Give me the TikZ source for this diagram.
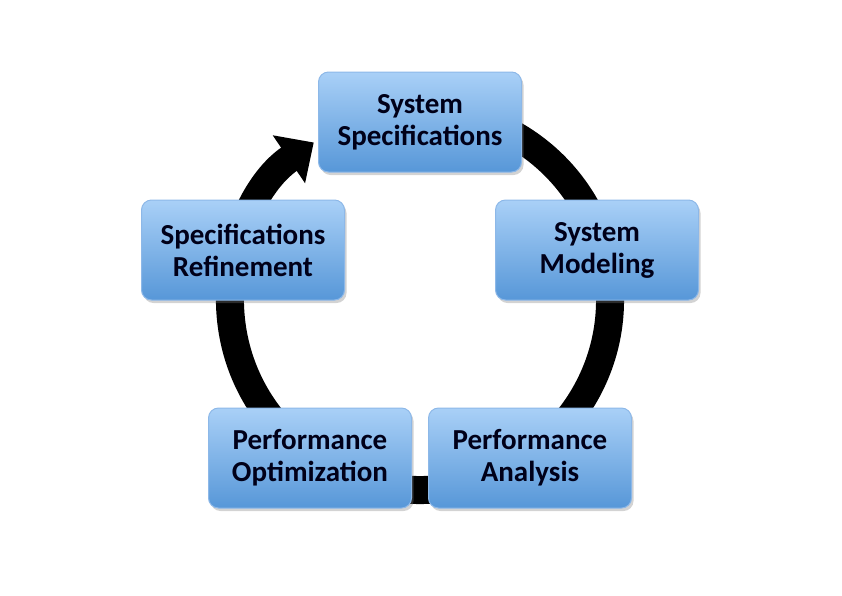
\documentclass[tikz,border=0pt]{standalone}
\usepackage{fontspec}
\setmainfont{Carlito}
\usetikzlibrary{arrows.meta,shadows}
\definecolor{topb}{HTML}{A9D0F7}
\definecolor{botb}{HTML}{5797D8}
\definecolor{edgeb}{HTML}{8DB8E8}
\tikzset{box/.style={draw=edgeb,line width=1pt,rounded corners=10pt,minimum width=203pt,minimum height=100pt,
 top color=topb,bottom color=botb,align=center,font=\fontsize{29}{32}\selectfont\bfseries,text=black!90!blue,
 drop shadow={shadow xshift=2pt,shadow yshift=-3pt,opacity=0.35}}}
\begin{document}
\begin{tikzpicture}[x=1pt,y=1pt]
\useasboundingbox (0,0) rectangle (842,-595);
\coordinate (c) at (420,-300);
\draw[line width=28pt,-{Triangle[width=56pt,length=30pt]}] ([shift={(460:190)}]c) arc[start angle=460,end angle=124,radius=190];
\node[box] (ss) at (420,-122) {System\\Specifications};
\node[box] (sm) at (597,-250) {System\\Modeling};
\node[box] (pa) at (530,-458) {Performance\\Analysis};
\node[box] (po) at (310,-458) {Performance\\Optimization};
\node[box] (sr) at (243,-250) {Specifications\\Refinement};
\end{tikzpicture}
\end{document}
